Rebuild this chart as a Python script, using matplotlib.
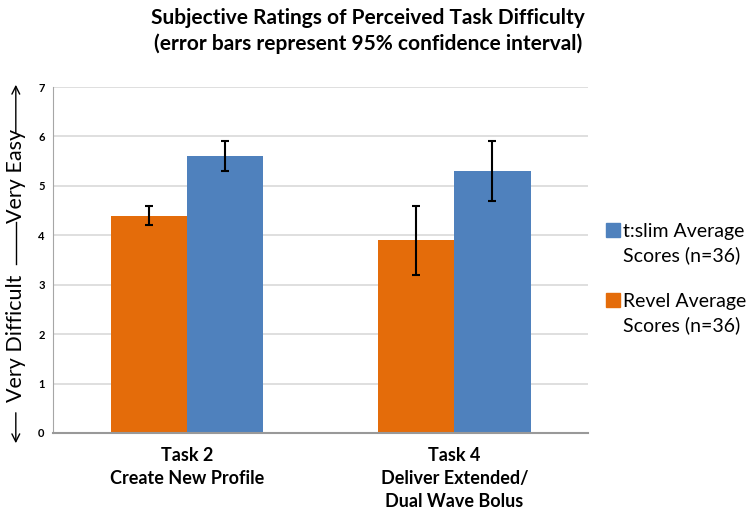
import matplotlib.pyplot as plt
from matplotlib.patches import Rectangle, FancyArrowPatch
import numpy as np

tasks = ['Task 2\nCreate New Profile', 'Task 4\nDeliver Extended/\nDual Wave Bolus']
revel_scores = [4.4, 3.9]
revel_err = [0.2, 0.7]
tslim_scores = [5.6, 5.3]
tslim_err = [0.3, 0.6]
series_names = ['t:slim Average\nScores (n=36)', 'Revel Average\nScores (n=36)']
series_colors = ['#4F81BD', '#E46C0A']

plt.rcParams['font.family'] = ['Lato', 'DejaVu Sans']

fig = plt.figure(figsize=(7.53, 5.14), dpi=100)
ax = fig.add_axes([0.0704, 0.1576, 0.7105, 0.6731])

x = np.arange(len(tasks))
w = 0.285
ekw = dict(ecolor='black', elinewidth=1.5, capsize=3, capthick=1.5)
ax.bar(x - w/2, revel_scores, w, yerr=revel_err, color=series_colors[1], error_kw=ekw, zorder=2)
ax.bar(x + w/2, tslim_scores, w, yerr=tslim_err, color=series_colors[0], error_kw=ekw, zorder=2)

ax.set_xlim(-0.5, 1.5)
ax.set_ylim(0, 7)
ax.set_yticks(range(8))
ax.set_yticklabels([str(i) for i in range(8)], fontsize=8, fontweight='bold')
ax.set_xticks(x)
ax.set_xticklabels(tasks, fontsize=13, fontweight='bold', linespacing=1.45)
ax.tick_params(length=0, pad=6, axis='y')
ax.tick_params(length=0, pad=10, axis='x')
ax.yaxis.grid(True, color='#D9D9D9', linewidth=1.2, zorder=0)
ax.set_axisbelow(True)
for s in ['top', 'right']:
    ax.spines[s].set_visible(False)
ax.spines['left'].set_color('#A6A6A6')
ax.spines['bottom'].set_color('#999999')
ax.spines['bottom'].set_linewidth(1.5)

fig.text(0.489, 0.965, 'Subjective Ratings of Perceived Task Difficulty', ha='center', va='center',
         fontsize=15, fontweight='bold')
fig.text(0.489, 0.914, '(error bars represent 95% confidence interval)', ha='center', va='center',
         fontsize=15, fontweight='bold')

# y axis label with arrows
xl = 0.021
fig.text(xl, (514 - 338) / 514, 'Very Difficult', rotation=90, ha='center', va='center', fontsize=15.5)
fig.text(xl, (514 - 176) / 514, 'Very Easy', rotation=90, ha='center', va='center', fontsize=15.5)
ap = dict(arrowstyle='->', color='black', lw=1, mutation_scale=14)
fig.add_artist(FancyArrowPatch((xl, (514 - 410) / 514), (xl, (514 - 446) / 514),
                               transform=fig.transFigure, **ap))
fig.add_artist(FancyArrowPatch((xl, (514 - 136) / 514), (xl, (514 - 82) / 514),
                               transform=fig.transFigure, **ap))
fig.add_artist(plt.Line2D([xl, xl], [(514 - 264) / 514, (514 - 222) / 514], color='black', lw=1,
                          transform=fig.transFigure))

# legend: square beside first line of each entry
W, H = 753, 514
for i, (name, col) in enumerate(zip(series_names, series_colors)):
    top = 223 + i * 70
    fig.add_artist(Rectangle((606 / W, (H - top - 14) / H), 14 / W, 14 / H, color=col,
                             transform=fig.transFigure))
    fig.text(623 / W, (H - top) / H, name, ha='left', va='top', fontsize=14, linespacing=1.45)

plt.savefig('out.png')
